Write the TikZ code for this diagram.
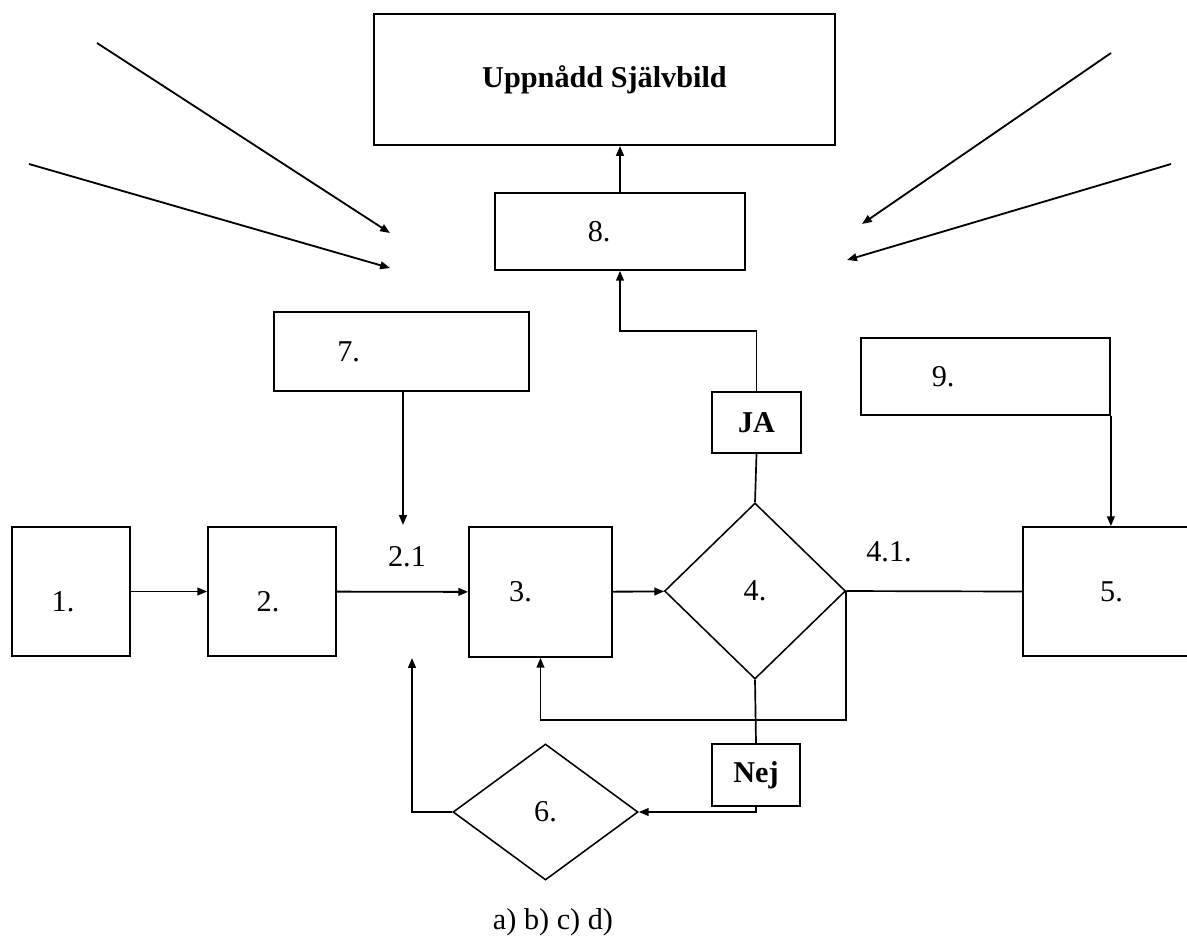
\documentclass[tikz,border=0pt]{standalone}
\usepackage{fontspec}
\setmainfont{Liberation Serif}
\usetikzlibrary{arrows.meta,shapes.geometric}

\tikzset{
	box/.style={draw,line width=1.2pt,inner sep=0pt},
	rhomb/.style={draw,diamond,line width=1.1pt,inner sep=0pt},
	arr/.style={line width=1.3pt,-{Triangle[length=7pt,width=5.5pt]}},
	ln/.style={line width=1.2pt}
}

\begin{document}
\begin{tikzpicture}[x=0.025cm,y=-0.025cm,font=\fontsize{21.5}{26}\selectfont]
	\path[use as bounding box,clip] (0,0) rectangle (1187,936);
	\node[box,minimum width=11.53cm,minimum height=3.28cm] (top) at (604.5,79.5) {\bfseries Uppnådd Självbild};
	\node[box,minimum width=6.25cm,minimum height=1.925cm,label={[xshift=-0.52cm]center:8.}] (b8) at (620,231.5) {};
	\node[box,minimum width=6.375cm,minimum height=1.975cm,label={[xshift=-1.32cm]center:7.}] (b7) at (401.5,351.5) {};
	\node[box,minimum width=6.225cm,minimum height=1.925cm,label={[xshift=-1.06cm]center:9.}] (b9) at (985.5,376.5) {};
	\node[box,minimum width=2.225cm,minimum height=1.525cm] (ja) at (756.5,422.5) {\bfseries JA};
	\node[box,minimum width=2.95cm,minimum height=3.225cm,label={[xshift=-0.2cm,yshift=-0.25cm]center:1.}] (b1) at (71,591.5) {};
	\node[box,minimum width=3.2cm,minimum height=3.225cm,label={[xshift=-0.1cm,yshift=-0.25cm]center:2.}] (b2) at (272,591.5) {};
	\node[box,minimum width=3.575cm,minimum height=3.25cm,label={[xshift=-0.5cm]center:3.}] (b3) at (540.5,592) {};
	\node[rhomb,minimum width=4.525cm,minimum height=4.4cm] (d4) at (755,591) {4.};
	\node[box,minimum width=4.425cm,minimum height=3.225cm] (b5) at (1111.5,591.5) {5.};
	\node[box,minimum width=2.2cm,minimum height=1.55cm] (nej) at (756,775) {\bfseries Nej};
	\node[rhomb,minimum width=4.625cm,minimum height=3.4cm] (d6) at (545.5,812) {6.};
	\node (l21) at (407,557) {2.1};
	\node (l41) at (889,552) {4.1.};
	\node[anchor=west] (caption) at (488,922) {a) b) c) d)};

	\coordinate (in7) at (403,525);
	\coordinate (in6) at (412,658);
	\coordinate (yup) at (0,331);
	\coordinate (yloop) at (0,720);
	\coordinate (tl1) at (97,43);   \coordinate (tl1e) at (390,233);
	\coordinate (tl2) at (29,164);  \coordinate (tl2e) at (390,268);
	\coordinate (tr1) at (1111,53); \coordinate (tr1e) at (862,224);
	\coordinate (tr2) at (1171,164);\coordinate (tr2e) at (847,260);

	\draw[arr] (b1) -- (b2);
	\draw[arr] (b2) -- (b3);
	\draw[arr] (b3) -- (d4);
	\draw[arr] (b7.south -| in7) -- (in7);
	\draw[arr] (d6.west) -| (in6);
	\draw[ln] (d4.east) -- (b5.west);
	\draw[arr] (d4.east) -- (d4.east |- yloop) -| (b3.south);
	\draw[ln] (d4.north) -- (ja.south);
	\draw[arr] (ja.north) -- (ja.north |- yup) -| (b8.south);
	\draw[arr] (b8.north) -- (b8.north |- top.south);
	\draw[ln] (d4.south) -- (nej.north);
	\draw[arr] (nej.south) |- (d6.east);
	\draw[arr] (b9.south east) -- (b9.south east |- b5.north);
	\draw[arr] (tl1) -- (tl1e);
	\draw[arr] (tl2) -- (tl2e);
	\draw[arr] (tr1) -- (tr1e);
	\draw[arr] (tr2) -- (tr2e);
\end{tikzpicture}
\end{document}
